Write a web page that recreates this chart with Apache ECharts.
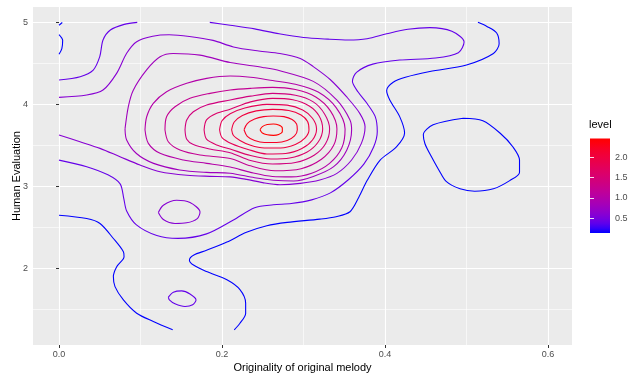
<!DOCTYPE html>
<html>
<head>
<meta charset="utf-8">
<script src="https://cdn.jsdelivr.net/npm/echarts@6/dist/echarts.min.js"></script>
<style>
html, body { margin: 0; padding: 0; background: #fff; }
#chart { width: 630px; height: 376px; }
</style>
</head>
<body>
<div id="chart"></div>
<script>
const chart = echarts.init(document.getElementById("chart"));

// axis ticks
const X_TICKS = [0, 0.2, 0.4, 0.6];
const X_MINOR = [0.1, 0.3, 0.5];
const Y_TICKS = [2, 3, 4, 5];
const Y_MINOR = [1.5, 2.5, 3.5, 4.5];
const LEGEND_TICKS = [0.5, 1.0, 1.5, 2.0];
const LEVEL_MIN = 0.2;
const LEVEL_MAX = 2.4;

// contour pieces, [originality, evaluation]
const blueTopA = [[0, 4.965], [0.004, 4.998]];
const blueTopB = [[0, 4.85], [0.0045, 4.78], [0.0035, 4.68], [0, 4.61]];
const blueBottomLeft = [[0, 2.648], [0.034, 2.607], [0.0503, 2.547], [0.0667, 2.364], [0.079, 2.202], [0.0798, 2.142],
	[0.0708, 2.02], [0.0667, 1.899], [0.0687, 1.777], [0.079, 1.615], [0.0953, 1.453], [0.1157, 1.352], [0.1395, 1.251]];
const blueLong = [[0.215, 1.25], [0.222, 1.33], [0.229, 1.45], [0.229, 1.575], [0.222, 1.74], [0.206, 1.86], [0.181, 1.96],
	[0.165, 2.04], [0.160, 2.10], [0.165, 2.16], [0.181, 2.22], [0.206, 2.32], [0.230, 2.44], [0.255, 2.52], [0.28, 2.56],
	[0.32, 2.60], [0.34, 2.63], [0.357, 2.69], [0.368, 2.87], [0.378, 3.07], [0.394, 3.32], [0.414, 3.48], [0.424, 3.65],
	[0.418, 3.85], [0.406, 4.05], [0.402, 4.17], [0.41, 4.27], [0.425, 4.33], [0.455, 4.40], [0.50, 4.48], [0.533, 4.62],
	[0.54, 4.74], [0.537, 4.87], [0.525, 4.95], [0.514, 5.0]];
const blueRightLoop = [[0.496, 3.83], [0.52, 3.80], [0.541, 3.65], [0.557, 3.48], [0.565, 3.32], [0.565, 3.17], [0.553, 3.07],
	[0.533, 2.97], [0.51, 2.94], [0.492, 2.97], [0.475, 3.06], [0.466, 3.2], [0.457, 3.36], [0.449, 3.52], [0.447, 3.63],
	[0.459, 3.75], [0.496, 3.83]];

const l04TopLeft = [[0, 4.296], [0.026, 4.337], [0.042, 4.418], [0.050, 4.581], [0.054, 4.784], [0.063, 4.906], [0.08, 4.975], [0.096, 5.0]];
const l04Main = [[0.185, 5.0], [0.21, 4.965], [0.24, 4.92], [0.27, 4.86], [0.30, 4.815], [0.33, 4.795], [0.355, 4.785],
	[0.378, 4.80], [0.402, 4.86], [0.428, 4.915], [0.455, 4.935], [0.482, 4.89], [0.497, 4.76], [0.49, 4.63], [0.462, 4.565],
	[0.418, 4.54], [0.385, 4.49], [0.365, 4.39], [0.360, 4.28], [0.367, 4.15], [0.378, 4.01], [0.388, 3.85], [0.3905, 3.67],
	[0.386, 3.48], [0.374, 3.27], [0.355, 3.08], [0.333, 2.92], [0.31, 2.835], [0.285, 2.79], [0.263, 2.775], [0.24, 2.74],
	[0.214, 2.59], [0.181, 2.42], [0.146, 2.365], [0.12, 2.40], [0.095, 2.53], [0.083, 2.70], [0.0795, 2.85], [0.075, 3.03],
	[0.06, 3.14], [0.034, 3.24], [0, 3.32]];
const l04Small = [[0.1342, 1.648], [0.1403, 1.709], [0.1505, 1.725], [0.1607, 1.688], [0.1681, 1.615], [0.164, 1.555],
	[0.1546, 1.534], [0.1423, 1.567], [0.1354, 1.615], [0.1342, 1.648]];

const l06Main = [[0, 4.085], [0.034, 4.113], [0.054, 4.174], [0.0707, 4.378], [0.083, 4.622], [0.0953, 4.764], [0.115, 4.83],
	[0.135, 4.848], [0.16, 4.828], [0.189, 4.78], [0.214, 4.70], [0.245, 4.65], [0.271, 4.62], [0.296, 4.56], [0.312, 4.46],
	[0.333, 4.30], [0.353, 4.09], [0.369, 3.89], [0.3755, 3.727], [0.371, 3.524], [0.359, 3.321], [0.341, 3.158], [0.32, 3.077],
	[0.296, 3.036], [0.271, 3.02], [0.25, 3.045], [0.23, 3.085], [0.21, 3.115], [0.185, 3.122], [0.157, 3.135], [0.124, 3.178],
	[0.0994, 3.26], [0.0748, 3.361], [0.0503, 3.463], [0.0257, 3.544], [0, 3.626]];
const l06Small = [[0.1219, 2.68], [0.128, 2.769], [0.1444, 2.83], [0.1607, 2.802], [0.173, 2.688], [0.1697, 2.607],
	[0.1566, 2.555], [0.1423, 2.547], [0.128, 2.595], [0.1219, 2.68]];

const ring08 = [[0.081, 3.70], [0.085, 3.97], [0.091, 4.17], [0.1075, 4.42], [0.124, 4.58], [0.14, 4.62], [0.173, 4.60],
	[0.21, 4.51], [0.25, 4.45], [0.271, 4.41], [0.312, 4.28], [0.341, 4.05], [0.357, 3.81], [0.359, 3.69], [0.353, 3.44],
	[0.337, 3.24], [0.312, 3.12], [0.288, 3.065], [0.263, 3.075], [0.24, 3.105], [0.21, 3.16], [0.181, 3.17], [0.148, 3.20],
	[0.116, 3.28], [0.095, 3.40], [0.083, 3.565], [0.081, 3.70]];
const ring10 = [[0.1055, 3.69], [0.1076, 3.849], [0.1157, 4.012], [0.132, 4.154], [0.1567, 4.256], [0.1812, 4.317],
	[0.21, 4.345], [0.235, 4.33], [0.262, 4.29], [0.29, 4.245], [0.318, 4.15], [0.340, 3.96], [0.351, 3.70], [0.347, 3.47],
	[0.332, 3.28], [0.31, 3.16], [0.285, 3.115], [0.262, 3.12], [0.235, 3.17], [0.21, 3.235], [0.1812, 3.28], [0.1526, 3.321],
	[0.124, 3.402], [0.1096, 3.524], [0.1055, 3.69]];
const ring12 = [[0.13, 3.69], [0.132, 3.849], [0.1423, 3.971], [0.1607, 4.073], [0.1853, 4.134], [0.21, 4.175], [0.235, 4.195],
	[0.262, 4.207], [0.29, 4.18], [0.315, 4.09], [0.333, 3.92], [0.341, 3.70], [0.337, 3.50], [0.322, 3.33], [0.297, 3.215],
	[0.265, 3.19], [0.235, 3.25], [0.21, 3.34], [0.173, 3.382], [0.1484, 3.443], [0.1341, 3.544], [0.13, 3.69]];
const ring14 = [[0.1546, 3.69], [0.1567, 3.808], [0.1648, 3.91], [0.1812, 3.991], [0.21, 4.053], [0.235, 4.10], [0.262, 4.134],
	[0.29, 4.11], [0.312, 4.03], [0.326, 3.88], [0.332, 3.70], [0.327, 3.52], [0.313, 3.38], [0.29, 3.29], [0.262, 3.272],
	[0.235, 3.315], [0.21, 3.41], [0.185, 3.455], [0.1648, 3.51], [0.1567, 3.575], [0.1546, 3.69]];
const ring16 = [[0.178, 3.69], [0.181, 3.81], [0.1935, 3.89], [0.21, 3.94], [0.235, 4.03], [0.262, 4.073], [0.287, 4.055],
	[0.307, 3.98], [0.319, 3.86], [0.3235, 3.70], [0.318, 3.54], [0.304, 3.415], [0.283, 3.345], [0.26, 3.333], [0.235, 3.375],
	[0.21, 3.455], [0.1935, 3.505], [0.181, 3.575], [0.178, 3.69]];
const ring18 = [[0.197, 3.69], [0.2, 3.80], [0.21, 3.885], [0.228, 3.955], [0.255, 4.0], [0.28, 3.99], [0.299, 3.93],
	[0.311, 3.83], [0.316, 3.70], [0.311, 3.565], [0.298, 3.46], [0.278, 3.40], [0.255, 3.395], [0.232, 3.45], [0.212, 3.52],
	[0.2, 3.595], [0.197, 3.69]];
const ring20 = [[0.2118, 3.69], [0.215, 3.785], [0.225, 3.865], [0.242, 3.92], [0.262, 3.939], [0.282, 3.925], [0.297, 3.87],
	[0.305, 3.79], [0.3067, 3.69], [0.302, 3.59], [0.29, 3.51], [0.272, 3.468], [0.252, 3.468], [0.235, 3.50], [0.222, 3.56],
	[0.214, 3.62], [0.2118, 3.69]];
const ring22 = [[0.227, 3.69], [0.231, 3.765], [0.240, 3.82], [0.251, 3.85], [0.263, 3.857], [0.276, 3.85], [0.286, 3.815],
	[0.2915, 3.76], [0.2924, 3.69], [0.289, 3.615], [0.280, 3.56], [0.267, 3.535], [0.252, 3.535], [0.240, 3.56], [0.231, 3.61],
	[0.227, 3.69]];
const ring24 = [[0.2466, 3.69], [0.2495, 3.728], [0.2555, 3.753], [0.263, 3.760], [0.2695, 3.748], [0.2740, 3.712],
	[0.2740, 3.668], [0.2695, 3.632], [0.263, 3.622], [0.2555, 3.628], [0.2495, 3.650], [0.2466, 3.69]];

const contours = [
	[0.2, blueTopA], [0.2, blueTopB], [0.2, blueBottomLeft], [0.2, blueLong], [0.2, blueRightLoop],
	[0.4, l04TopLeft], [0.4, l04Main], [0.4, l04Small],
	[0.6, l06Main], [0.6, l06Small],
	[0.8, ring08], [1.0, ring10], [1.2, ring12], [1.4, ring14], [1.6, ring16],
	[1.8, ring18], [2.0, ring20], [2.2, ring22], [2.4, ring24]
];

// blue -> red, interpolated in CIELAB like ggplot's gradient
function toLab(hex) {
	const c = [1, 3, 5].map(i => {
		let v = parseInt(hex.substr(i, 2), 16) / 255;
		return v <= 0.04045 ? v / 12.92 : Math.pow((v + 0.055) / 1.055, 2.4);
	});
	const X = (0.4124 * c[0] + 0.3576 * c[1] + 0.1805 * c[2]) / 0.95047;
	const Y = 0.2126 * c[0] + 0.7152 * c[1] + 0.0722 * c[2];
	const Z = (0.0193 * c[0] + 0.1192 * c[1] + 0.9505 * c[2]) / 1.08883;
	const f = t => t > 0.008856 ? Math.cbrt(t) : 7.787 * t + 16 / 116;
	return [116 * f(Y) - 16, 500 * (f(X) - f(Y)), 200 * (f(Y) - f(Z))];
}
function fromLab(L, a, b) {
	const fy = (L + 16) / 116, fx = fy + a / 500, fz = fy - b / 200;
	const g = t => t * t * t > 0.008856 ? t * t * t : (t - 16 / 116) / 7.787;
	const X = g(fx) * 0.95047, Y = g(fy), Z = g(fz) * 1.08883;
	const rgb = [
		3.2406 * X - 1.5372 * Y - 0.4986 * Z,
		-0.9689 * X + 1.8758 * Y + 0.0415 * Z,
		0.0557 * X - 0.2040 * Y + 1.0570 * Z
	].map(v => {
		v = v <= 0.0031308 ? 12.92 * v : 1.055 * Math.pow(v, 1 / 2.4) - 0.055;
		return Math.round(Math.max(0, Math.min(1, v)) * 255);
	});
	return "rgb(" + rgb.join(",") + ")";
}
const LOW = toLab("#0000FF");
const HIGH = toLab("#FF0000");
function levelColor(level) {
	let t = (level - LEVEL_MIN) / (LEVEL_MAX - LEVEL_MIN);
	t = Math.max(0, Math.min(1, t));
	return fromLab(LOW[0] + (HIGH[0] - LOW[0]) * t, LOW[1] + (HIGH[1] - LOW[1]) * t, LOW[2] + (HIGH[2] - LOW[2]) * t);
}

// colourbar: limits sit at the centres of the end bins (20 bins)
const over = (LEVEL_MAX - LEVEL_MIN) / 38;
const barMin = LEVEL_MIN - over;
const barMax = LEVEL_MAX + over;
const barStops = [];
for (let i = 0; i <= 20; i++) {
	const off = i / 20;
	barStops.push({ offset: off, color: levelColor(barMax - off * (barMax - barMin)) });
}

const FONT = "Liberation Sans";
const fmt1 = v => Number(v).toFixed(1);

option = {
	animation: false,
	textStyle: { fontFamily: FONT },
	title: {
		text: "level",
		left: 589,
		top: 119,
		padding: 0,
		textStyle: { fontSize: 11, fontWeight: "normal", color: "#000", fontFamily: FONT }
	},
	grid: [{
		left: 33, right: 58, top: 7, bottom: 31,
		outerBoundsMode: "none",
		show: true, backgroundColor: "#EBEBEB", borderWidth: 0
	}, {
		left: 590, top: 138.5, width: 20, height: 94.5,
		outerBoundsMode: "none",
		show: true, borderWidth: 0,
		backgroundColor: { type: "linear", x: 0, y: 0, x2: 0, y2: 1, colorStops: barStops }
	}],
	xAxis: [{
		gridIndex: 0, type: "value", min: -0.0319, max: 0.6294,
		name: "Originality of original melody", nameLocation: "middle", nameGap: 17,
		nameMoveOverlap: false,
		nameTextStyle: { color: "#000", fontSize: 11, fontFamily: FONT },
		axisLine: { show: false },
		axisTick: { customValues: X_TICKS, length: 3, lineStyle: { color: "#333333" } },
		axisLabel: { customValues: X_TICKS, formatter: fmt1, color: "#4D4D4D", fontSize: 9, margin: 5 },
		splitLine: { show: true, lineStyle: { color: "#FFFFFF", width: 1.1 } }
	}, {
		gridIndex: 0, type: "value", min: -0.0319, max: 0.6294, position: "bottom",
		axisLine: { show: false },
		axisTick: { show: false, customValues: X_MINOR },
		axisLabel: { show: false, customValues: X_MINOR },
		splitLine: { show: true, lineStyle: { color: "#FFFFFF", width: 0.6 } }
	}, {
		gridIndex: 1, type: "value", min: 0, max: 1, show: false
	}],
	yAxis: [{
		gridIndex: 0, type: "value", min: 1.065, max: 5.187,
		name: "Human Evaluation", nameLocation: "middle", nameGap: 11,
		nameMoveOverlap: false,
		nameTextStyle: { color: "#000", fontSize: 11, fontFamily: FONT },
		axisLine: { show: false },
		axisTick: { customValues: Y_TICKS, length: 3, lineStyle: { color: "#333333" } },
		axisLabel: { customValues: Y_TICKS, color: "#4D4D4D", fontSize: 9, margin: 5 },
		splitLine: { show: true, lineStyle: { color: "#FFFFFF", width: 1.1 } }
	}, {
		gridIndex: 0, type: "value", min: 1.065, max: 5.187, position: "left",
		axisLine: { show: false },
		axisTick: { show: false, customValues: Y_MINOR },
		axisLabel: { show: false, customValues: Y_MINOR },
		splitLine: { show: true, lineStyle: { color: "#FFFFFF", width: 0.6 } }
	}, {
		gridIndex: 1, type: "value", min: barMin, max: barMax, position: "right",
		axisLine: { show: false },
		axisTick: { inside: true, length: 4, customValues: LEGEND_TICKS, lineStyle: { color: "rgba(255,255,255,0.85)" } },
		axisLabel: { customValues: LEGEND_TICKS, formatter: fmt1, color: "#4D4D4D", fontSize: 9, margin: 5 },
		splitLine: { show: false }
	}, {
		gridIndex: 1, type: "value", min: barMin, max: barMax, position: "left",
		axisLine: { show: false },
		axisTick: { inside: true, length: 4, customValues: LEGEND_TICKS, lineStyle: { color: "rgba(255,255,255,0.85)" } },
		axisLabel: { show: false, customValues: LEGEND_TICKS },
		splitLine: { show: false }
	}],
	series: contours.map(([level, pts]) => ({
		type: "line",
		xAxisIndex: 0,
		yAxisIndex: 0,
		data: pts,
		showSymbol: false,
		symbol: "none",
		smooth: 0.3,
		silent: true,
		lineStyle: { color: levelColor(level), width: 1.1 }
	}))
};

chart.setOption(option);
window.onresize = chart.resize;
</script>
</body>
</html>
